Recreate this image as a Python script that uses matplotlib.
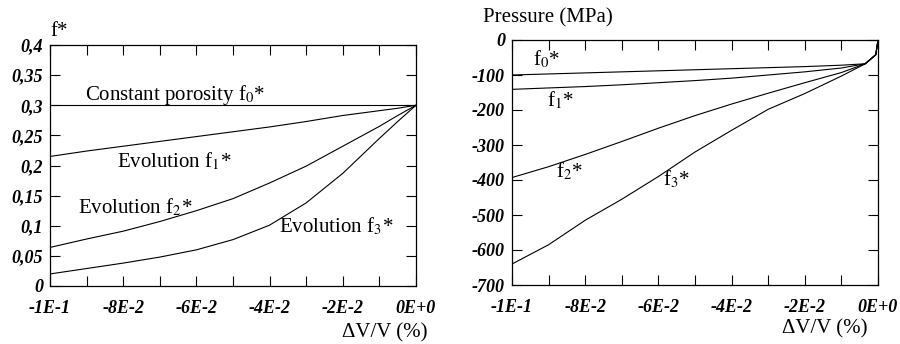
import matplotlib
matplotlib.use("Agg")
import matplotlib.pyplot as plt

plt.rcParams['font.family'] = ['Liberation Serif', 'DejaVu Serif']
plt.rcParams['mathtext.fontset'] = 'stix'

# left panel: porosity f* vs volume change
dv_f = [-0.1, -0.09, -0.08, -0.07, -0.06, -0.05, -0.04, -0.03, -0.02, -0.01, -0.005, 0.0]
f0 = [0.3] * len(dv_f)
f1 = [0.215, 0.224, 0.232, 0.240, 0.248, 0.256, 0.264, 0.273, 0.283, 0.291, 0.295, 0.3]
f2 = [0.064, 0.078, 0.091, 0.107, 0.125, 0.145, 0.171, 0.199, 0.232, 0.265, 0.283, 0.3]
f3 = [0.020, 0.029, 0.038, 0.048, 0.060, 0.077, 0.101, 0.138, 0.187, 0.245, 0.273, 0.3]

# right panel: pressure vs volume change
dv_p = [-0.1, -0.09, -0.08, -0.07, -0.06, -0.05, -0.04, -0.03, -0.02, -0.01, -0.0035, -0.0006, 0.0]
p0 = [-100, -97, -94, -91, -88, -85, -82, -79, -76, -72, -68, -42, 0]
p1 = [-141, -137, -133, -128, -122, -116, -109, -100, -91, -80, -68, -42, 0]
p2 = [-393, -362, -327, -290, -252, -216, -183, -152, -122, -93, -68, -42, 0]
p3 = [-640, -585, -515, -455, -390, -320, -258, -198, -153, -103, -68, -42, 0]

x_major = [-0.1, -0.08, -0.06, -0.04, -0.02, 0.0]
x_minor = [-0.09, -0.07, -0.05, -0.03, -0.01]
x_labels = ['-1E-1', '-8E-2', '-6E-2', '-4E-2', '-2E-2', '0E+0']
f_ticks = [0, 0.05, 0.1, 0.15, 0.2, 0.25, 0.3, 0.35, 0.4]
f_labels = ['0', '0,05', '0,1', '0,15', '0,2', '0,25', '0,3', '0,35', '0,4']
p_ticks = [0, -100, -200, -300, -400, -500, -600, -700]
p_labels = ['0', '-100', '-200', '-300', '-400', '-500', '-600', '-700']

tick_font = dict(family='Liberation Serif', weight='bold', style='italic', size=13)
note_size = 15

fig = plt.figure(figsize=(9, 3.44), dpi=100)
ax1 = fig.add_axes([50 / 900, 1 - 286 / 344, 366 / 900, 241 / 344])
ax2 = fig.add_axes([512 / 900, 1 - 285 / 344, 366 / 900, 245 / 344])


def style_axis(ax):
    ax.set_xlim(-0.1, 0.0)
    ax.set_xticks(x_major)
    ax.set_xticks(x_minor, minor=True)
    ax.set_xticklabels(x_labels, fontdict=tick_font)
    ax.tick_params(which='both', direction='in', top=True, right=True,
                   length=7, width=0.8)
    ax.tick_params(axis='x', pad=10)
    ax.tick_params(axis='y', pad=5)
    for s in ax.spines.values():
        s.set_linewidth(0.9)


style_axis(ax1)
ax1.set_ylim(0, 0.4)
ax1.set_yticks(f_ticks)
ax1.set_yticklabels(f_labels, fontdict=tick_font)
for ys in (f0, f1, f2, f3):
    ax1.plot(dv_f, ys, color='black', lw=0.8)

ax1.text(-0.0904, 0.309, 'Constant porosity f$_0$*', fontsize=note_size)
ax1.text(-0.0817, 0.1975, 'Evolution f$_1$*', fontsize=note_size)
ax1.text(-0.0923, 0.121, 'Evolution f$_2$*', fontsize=note_size)
ax1.text(-0.0374, 0.0896, 'Evolution f$_3$*', fontsize=note_size)

style_axis(ax2)
ax2.set_ylim(-700, 0)
ax2.set_yticks(p_ticks)
ax2.set_yticklabels(p_labels, fontdict=tick_font)
for ys in (p0, p1, p2, p3):
    ax2.plot(dv_p, ys, color='black', lw=0.8)

ax2.text(-0.0943, -71, 'f$_0$*', fontsize=note_size)
ax2.text(-0.0904, -189, 'f$_1$*', fontsize=note_size)
ax2.text(-0.088, -391, 'f$_2$*', fontsize=note_size)
ax2.text(-0.0587, -414, 'f$_3$*', fontsize=note_size)

fig.text(50 / 900, 1 - 36 / 344, 'f*', fontsize=note_size)
fig.text(483 / 900, 1 - 22 / 344, 'Pressure (MPa)', fontsize=note_size)
fig.text(427 / 900, 1 - 337 / 344, '\u0394V/V (%)', fontsize=note_size, ha='right')
fig.text(867 / 900, 1 - 333 / 344, '\u0394V/V (%)', fontsize=note_size, ha='right')

fig.savefig('out.png', dpi=100)
